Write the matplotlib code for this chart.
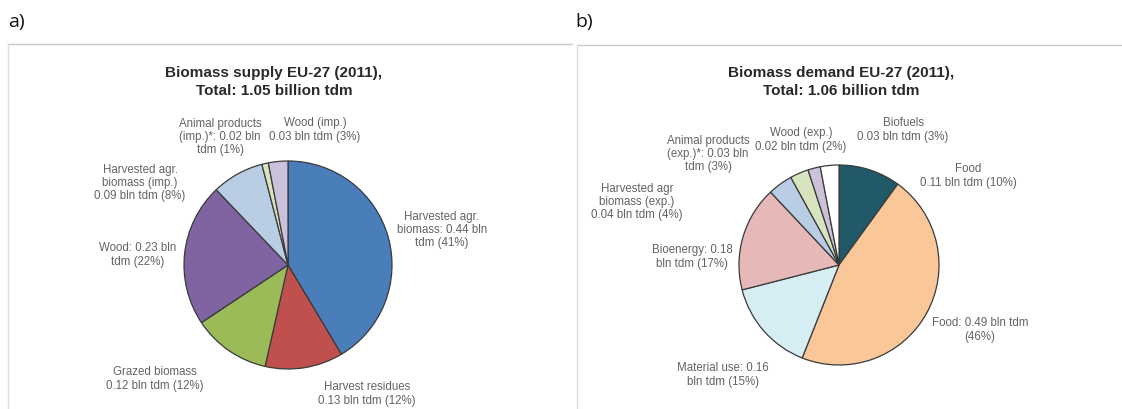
import matplotlib
matplotlib.use("Agg")
import matplotlib.pyplot as plt

# data (shares in %, clockwise from 12 o'clock)
supply_labels = ["Harvested agr.\nbiomass: 0.44 bln\ntdm (41%)",
                 "Harvest residues\n0.13 bln tdm (12%)",
                 "Grazed biomass\n0.12 bln tdm (12%)",
                 "Wood: 0.23 bln\ntdm (22%)",
                 "Harvested agr.\nbiomass (imp.)\n0.09 bln tdm (8%)",
                 "Animal products\n(imp.)*: 0.02 bln\ntdm (1%)",
                 "Wood (imp.)\n0.03 bln tdm (3%)"]
supply_share = [41, 12, 12, 22, 8, 1, 3]
supply_colors = ["#4a7ebb", "#c0504d", "#9bbb59", "#8064a2", "#b9cde5", "#d7e4bd", "#ccc1da"]

demand_labels = ["Food\n0.11 bln tdm (10%)",
                 "Food: 0.49 bln tdm\n(46%)",
                 "Material use: 0.16\nbln tdm (15%)",
                 "Bioenergy: 0.18\nbln tdm (17%)",
                 "Harvested agr\nbiomass (exp.)\n0.04 bln tdm (4%)",
                 "Animal products\n(exp.)*: 0.03 bln\ntdm (3%)",
                 "Wood (exp.)\n0.02 bln tdm (2%)",
                 "Biofuels\n0.03 bln tdm (3%)"]
demand_share = [10, 46, 15, 17, 4, 3, 2, 3]
demand_colors = ["#215968", "#fac898", "#d6edf4", "#e6b9b8", "#b9cde5", "#d7e4bd", "#ccc1da", "#ffffff"]

titles = ["Biomass supply EU-27 (2011),\nTotal: 1.05 billion tdm",
          "Biomass demand EU-27 (2011),\nTotal: 1.06 billion tdm"]
panel_tags = ["a)", "b)"]

W, H = 1122, 410
fig = plt.figure(figsize=(W / 100, H / 100), dpi=100)
ax = fig.add_axes([0, 0, 1, 1])

def Y(y):
    # pixel row (from top) -> data y
    return H - y

# pies
ax.pie(supply_share, colors=supply_colors, startangle=90, counterclock=False,
       center=(288, Y(266)), radius=104, frame=True,
       wedgeprops=dict(edgecolor="#3a3a3a", linewidth=0.9))
ax.pie(demand_share, colors=demand_colors, startangle=90, counterclock=False,
       center=(839, Y(266)), radius=100, frame=True,
       wedgeprops=dict(edgecolor="#3a3a3a", linewidth=0.9))

ax.set_xlim(0, W)
ax.set_ylim(0, H)
ax.axis("off")

# panel frames
ax.plot([8, 572], [Y(45), Y(45)], color="#c8c8c8", lw=1)
ax.plot([8, 8], [Y(45), 0], color="#dcdcdc", lw=1)
ax.plot([577, W], [Y(46), Y(46)], color="#c8c8c8", lw=1)
ax.plot([577, 577], [Y(46), 0], color="#dcdcdc", lw=1)

# panel tags
ax.text(8, Y(22), panel_tags[0], fontsize=14, family="Open Sans", va="center", ha="left", color="#111")
ax.text(575, Y(22), panel_tags[1], fontsize=14, family="Open Sans", va="center", ha="left", color="#111")

# titles
ax.text(274, Y(82), titles[0], fontsize=11, fontweight="bold", family="Liberation Sans",
        ha="center", va="center", color="#2a2a2a", linespacing=1.3)
ax.text(841, Y(82), titles[1], fontsize=11, fontweight="bold", family="Liberation Sans",
        ha="center", va="center", color="#2a2a2a", linespacing=1.3)

# label positions (pixel coords, centre of text block)
supply_pos = [(442, 230), (367, 394), (155, 379), (138, 255), (140, 183), (220, 137), (315, 130)]
demand_pos = [(968, 176), (980, 330), (723, 375), (692, 257), (637, 202), (708, 154), (801, 140), (903, 130)]

for lab, (x, y) in zip(supply_labels, supply_pos):
    ax.text(x, Y(y), lab, fontsize=8.3, family="Liberation Sans", ha="center", va="center",
            color="#636363", linespacing=1.12)
for lab, (x, y) in zip(demand_labels, demand_pos):
    ax.text(x, Y(y), lab, fontsize=8.3, family="Liberation Sans", ha="center", va="center",
            color="#636363", linespacing=1.12)

fig.savefig("out.png", dpi=100, facecolor="white")
